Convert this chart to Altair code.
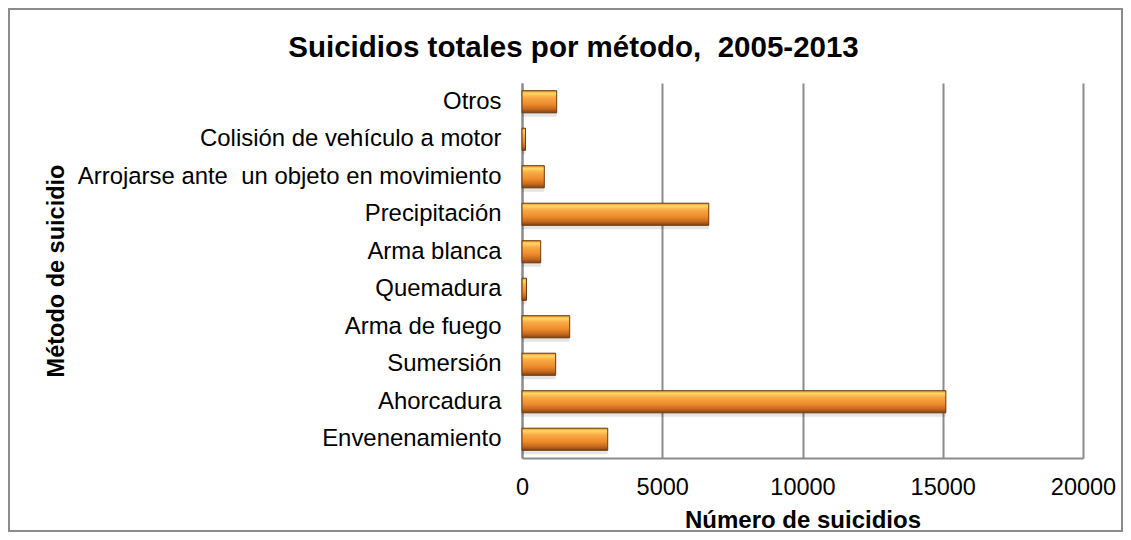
import altair as alt
import pandas as pd

metodos = ["Otros", "Colisión de vehículo a motor", "Arrojarse ante\u00a0 un objeto en movimiento",
           "Precipitación", "Arma blanca", "Quemadura", "Arma de fuego", "Sumersión",
           "Ahorcadura", "Envenenamiento"]
suicidios = [1237, 125, 795, 6658, 667, 160, 1700, 1200, 15110, 3056]
x_ticks = [0, 5000, 10000, 15000, 20000]

df = pd.DataFrame({"metodo": metodos, "n": suicidios})

FONT = "Liberation Sans"
GRID = "#8c8c8c"
W, H = 561, 375

ybase = alt.Y("metodo:N", sort=metodos,
              scale=alt.Scale(paddingInner=0.41, paddingOuter=0.205),
              axis=alt.Axis(title="Método de suicidio", ticks=False, domain=True,
                            domainColor=GRID, domainWidth=2, labelFont=FONT,
                            labelFontSize=23.9, labelColor="#000", labelPadding=21,
                            titleFont=FONT, titleFontSize=23.5, titleFontWeight="bold",
                            titleColor="#000", titleX=-459, titleY=H / 2,
                            titleBaseline="alphabetic", titleAngle=-90, labelLimit=0))

xbase = alt.X("n:Q", scale=alt.Scale(domain=[0, 20000], nice=False),
              axis=alt.Axis(title="Número de suicidios", values=x_ticks, ticks=False,
                            grid=True, gridColor=GRID, gridWidth=2, domainColor=GRID,
                            domainWidth=2, labelFont=FONT, labelFontSize=23.5,
                            labelColor="#000", labelPadding=17, titleFont=FONT,
                            titleFontSize=24, titleFontWeight="bold", titleColor="#000",
                            titleY=69, titleBaseline="alphabetic", labelFlush=False,
                            format="d"))

shadow = alt.Chart(df).mark_bar(color="#000", opacity=0.10, yOffset=4, x2Offset=4).encode(
    x=xbase, y=ybase)

grad = alt.Gradient(gradient="linear", x1=0, x2=0, y1=0, y2=1, stops=[
    alt.GradientStop(offset=0, color="#E58A28"),
    alt.GradientStop(offset=0.12, color="#FFD865"),
    alt.GradientStop(offset=0.3, color="#F9AA45"),
    alt.GradientStop(offset=0.6, color="#EE8C2C"),
    alt.GradientStop(offset=0.82, color="#C96A1E"),
    alt.GradientStop(offset=1, color="#7E4312"),
])

bars = alt.Chart(df).mark_bar(fill=grad, stroke="#6E3A0E", strokeWidth=1).encode(
    x=xbase, y=ybase)

border = alt.Chart(df).mark_rect(fill=None, stroke=GRID, strokeWidth=2).encode(
    x=alt.value(-513), x2=alt.value(600), y=alt.value(-74), y2=alt.value(448))

chart = alt.layer(border, shadow, bars).properties(
    width=W, height=H,
    title=alt.TitleParams("Suicidios totales por método,\u00a0 2005-2013", font=FONT,
                          fontSize=29.5, fontWeight="bold", color="#000", anchor="middle",
                          dx=-229, offset=-55),
    autosize=alt.AutoSizeParams(type="none"),
    padding={"left": 514, "top": 75, "right": 40, "bottom": 74},
    background="white",
).configure_view(stroke=None)

chart.save("out.html", embed_options={"renderer": "svg", "actions": False})
